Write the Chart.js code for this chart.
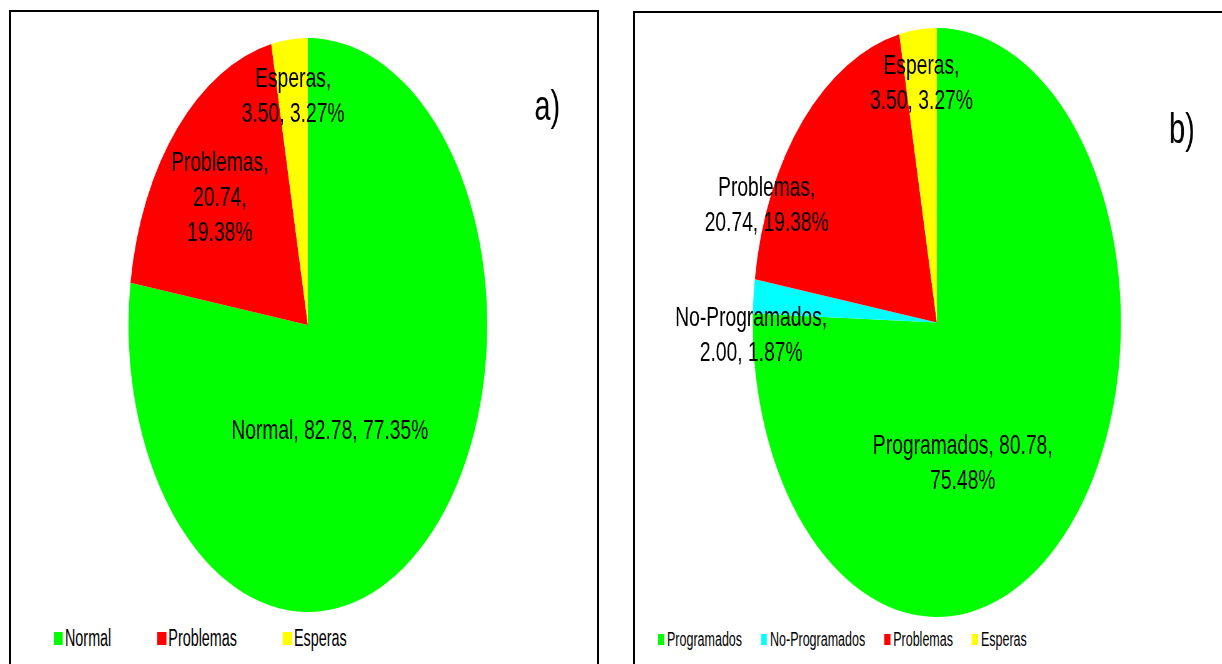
<!DOCTYPE html>
<html>
<head>
<meta charset="utf-8">
<script src="https://cdn.jsdelivr.net/npm/chart.js@4.4.1/dist/chart.umd.min.js"></script>
<style>
    body {
        margin: 0;
        width: 1222px;
        height: 664px;
        overflow: hidden;
        background: #fff;
        position: relative;
        font-family: "Liberation Sans", Arial, sans-serif;
    }
    .panel {
        position: absolute;
        border: 2px solid #000;
        border-bottom: none;
        overflow: hidden;
        background: #fff;
    }
    #panelA { left: 9px; top: 10px; width: 586px; height: 670px; }
    #panelB { left: 633px; top: 11px; width: 620px; height: 670px; }
    /* a imagem original está comprimida na horizontal */
    .squeeze {
        position: absolute;
        left: 0;
        top: 0;
        transform: scaleX(0.625);
        transform-origin: 0 0;
    }
    .legend {
        position: absolute;
        display: flex;
        align-items: center;
        height: 26px;
        white-space: nowrap;
        color: #000;
        transform: scaleX(0.625);
        transform-origin: 0 0;
    }
    .legend .item { display: flex; align-items: center; }
    #legendA { left: 43px; top: 613px; font-size: 23px; }
    #legendA .box { width: 14.4px; height: 13px; margin-right: 3.2px; }
    #legendA .item { margin-right: 73.6px; }
    #legendB { left: 23px; top: 613px; font-size: 20px; }
    #legendB .box { width: 9.6px; height: 11px; margin-right: 4.8px; }
    #legendB .item { margin-right: 30.4px; }
</style>
</head>
<body>
<div class="panel" id="panelA">
    <div class="squeeze"><canvas id="pieA" width="950" height="600"></canvas></div>
    <div class="legend" id="legendA"></div>
</div>
<div class="panel" id="panelB">
    <div class="squeeze"><canvas id="pieB" width="966" height="604"></canvas></div>
    <div class="legend" id="legendB"></div>
</div>

<script>
// Dados do gráfico a)
const labelsA = ['Normal', 'Problemas', 'Esperas'];
const valuesA = [82.78, 20.74, 3.50];
const colorsA = ['#00ff00', '#ff0000', '#ffff00'];

// Dados do gráfico b)
const labelsB = ['Programados', 'No-Programados', 'Problemas', 'Esperas'];
const valuesB = [80.78, 2.00, 20.74, 3.50];
const colorsB = ['#00ff00', '#00ffff', '#ff0000', '#ffff00'];

// Posição dos rótulos: fração do raio, desvio (graus) do ângulo médio, partes por linha
const placeA = [
    { r: 0.39, a: 22.5, wrap: [3] },
    { r: 0.66, a: -1.3, wrap: [1, 1, 1] },
    { r: 0.80, a: 0, wrap: [1, 2] }
];
const placeB = [
    { r: 0.50, a: 27.8, wrap: [2, 1] },
    { r: 1.01, a: -7.6, wrap: [1, 2] },
    { r: 1.006, a: -20.1, wrap: [1, 2] },
    { r: 0.816, a: 0, wrap: [1, 2] }
];

const FONT = '"Liberation Sans", Arial, sans-serif';
const TEXT_STRETCH = 1.1;

// Plugin para escrever os rótulos dentro das fatias
const sliceLabels = {
    id: 'sliceLabels',
    afterDatasetsDraw(chart, args, opts) {
        const ctx = chart.ctx;
        const meta = chart.getDatasetMeta(0);
        const data = chart.data.datasets[0].data;
        const total = data.reduce((a, b) => a + b, 0);

        ctx.save();
        ctx.fillStyle = '#000';
        ctx.textAlign = 'center';
        ctx.textBaseline = 'middle';
        ctx.font = opts.fontSize + 'px ' + FONT;

        meta.data.forEach((arc, i) => {
            const p = arc.getProps(['x', 'y', 'startAngle', 'endAngle', 'outerRadius'], true);
            const pl = opts.place[i];
            const ang = (p.startAngle + p.endAngle) / 2 + pl.a * Math.PI / 180;
            const cx = p.x + Math.cos(ang) * p.outerRadius * pl.r;
            const cy = p.y + Math.sin(ang) * p.outerRadius * pl.r;

            const parts = [
                chart.data.labels[i],
                data[i].toFixed(2),
                (data[i] / total * 100).toFixed(2) + '%'
            ];
            const lines = [];
            let k = 0;
            pl.wrap.forEach(n => {
                let line = parts.slice(k, k + n).join(', ');
                k += n;
                if (k < parts.length) line += ',';
                lines.push(line);
            });

            lines.forEach((line, j) => {
                const ly = cy + (j - (lines.length - 1) / 2) * opts.lineHeight;
                ctx.save();
                ctx.translate(cx, ly);
                ctx.scale(TEXT_STRETCH, 1);
                ctx.fillText(line, 0, 0);
                ctx.restore();
            });
        });

        // identificação do painel
        ctx.font = '42px ' + FONT;
        ctx.translate(opts.tag.x, opts.tag.y);
        ctx.scale(TEXT_STRETCH, 1);
        ctx.fillText(opts.tag.text, 0, 0);
        ctx.restore();
    }
};

function makePie(canvasId, labels, values, colors, place, tag, padTop) {
    const ctx = document.getElementById(canvasId).getContext('2d');
    return new Chart(ctx, {
        type: 'pie',
        data: {
            labels: labels,
            datasets: [{
                data: values,
                backgroundColor: colors,
                borderWidth: 0
            }]
        },
        options: {
            responsive: false,
            animation: false,
            events: [],
            layout: {
                padding: { top: padTop, bottom: 0, left: 0, right: 0 }
            },
            plugins: {
                legend: { display: false },
                tooltip: { enabled: false },
                sliceLabels: {
                    fontSize: 28,
                    lineHeight: 35,
                    place: place,
                    tag: tag
                }
            }
        },
        plugins: [sliceLabels]
    });
}

function makeLegend(id, labels, colors) {
    const el = document.getElementById(id);
    labels.forEach((lbl, i) => {
        const item = document.createElement('div');
        item.className = 'item';
        const box = document.createElement('span');
        box.className = 'box';
        box.style.background = colors[i];
        const txt = document.createElement('span');
        txt.textContent = lbl;
        item.appendChild(box);
        item.appendChild(txt);
        el.appendChild(item);
    });
}

makePie('pieA', labelsA, valuesA, colorsA, placeA, { text: 'a)', x: 858, y: 96 }, 26);
makePie('pieB', labelsB, valuesB, colorsB, placeB, { text: 'b)', x: 875, y: 118 }, 15);

makeLegend('legendA', labelsA, colorsA);
makeLegend('legendB', labelsB, colorsB);
</script>
</body>
</html>
